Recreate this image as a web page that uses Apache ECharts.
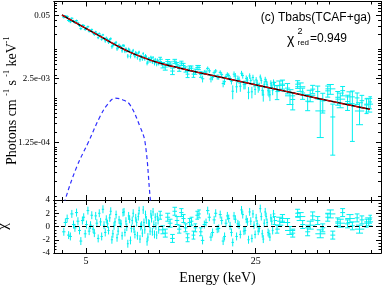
<!DOCTYPE html>
<html>
<head>
<meta charset="utf-8">
<script src="https://cdn.jsdelivr.net/npm/echarts@6/dist/echarts.min.js"></script>
<style>
html,body{margin:0;padding:0;background:#fff;}
#chart{width:382px;height:285px;}
</style>
</head>
<body>
<div id="chart"></div>
<script>
// ---------- data (two interleaved spectra) ----------
const energyA = [4.05,4.18,4.31,4.44,4.57,4.70,4.83,4.96,5.09,5.22,5.35,5.48,5.61,5.74,5.87,6.00,6.13,6.26,6.39,6.52,6.65,6.78,6.91,7.04,7.17,7.30,7.43,7.56,7.69,7.82,7.95,8.08,8.21,8.34,8.47,8.60,8.73,8.86,8.99,9.12,9.25,9.38,9.51,9.64,9.77,9.90,
10.1,10.6,11.1,11.6,12.1,12.6,13.1,13.6,14.1,14.6,15.1,15.6,16.1,16.6,17.1,17.6,18.1,18.6,19.1,19.6,20.1,20.6,21.1,21.6,22.1,22.6,23.1,23.6,24.1,24.6,25.1,25.6,26.1,26.6,27.1,27.6,28.1,28.6,29.1,29.6,
30.6,32.2,33.8,35.5,37.2,39.0,40.9,42.9,45.0,47.2,49.5,51.9,54.4,57.0,59.7,62.5,65.4,68.4,71.5,74.0];

const fluxA = [0.0458,0.04723,0.03683,0.03793,0.03872,0.03066,0.03107,0.02558,0.02915,0.02405,0.02166,0.02275,0.01735,0.01902,0.01981,
0.01497,0.01569,0.01583,0.01137,0.0129,0.01392,0.01094,0.01149,0.00936,0.01184,0.01024,0.00729,0.00959,0.00831,0.00956,0.00721,0.00809,0.00839,0.00616,0.00715,0.0082,0.00636,0.00698,0.0055,0.00636,0.00694,0.0055,0.00589,0.00625,0.00493,0.00577,
0.00626,0.00434,0.00497,0.0057,0.00406,0.00467,0.00311,0.00411,0.00351,0.00426,0.0025,0.00345,0.00363,0.00268,0.00361,0.00272,0.00304,0.00218,0.00308,0.00254,
0.00139,0.00284,0.00248,0.00176,0.00291,0.00191,0.00235,0.00285,0.00135,0.00202,0.00236,0.00163,0.00272,0.00144,0.00192,0.00218,0.00142,0.00117,0.00185,0.00213,
0.001364,0.00194,0.001608,0.00094,0.001933,0.001276,0.000867,0.001533,0.001367,0.000878,0.001412,0.000412,0.001044,0.001426,0.000854,0.000765,0.001012,0.000888,0.000725,0.000837];

const errA = [0.00289,0.00264,0.00243,0.00224,0.00206,0.00191,0.00177,0.00164,0.00153,0.00143,0.00133,0.00125,0.00117,0.0011,0.00103,
0.00129,0.00122,0.00115,0.00108,0.00102,0.00097,0.00093,0.00088,0.00084,0.00081,0.00077,0.00074,0.0007,0.00068,0.00066,0.00064,0.00062,0.0006,0.00058,0.00056,0.00055,0.00053,0.00052,0.0005,0.00049,0.00048,0.00047,0.00046,0.00045,0.00044,0.00043,
0.00062,0.00059,0.00056,0.00054,0.00051,0.00049,0.00047,0.00045,0.00043,0.00042,0.0004,0.00039,0.00037,0.00036,0.00035,0.00034,0.00033,0.00032,0.00031,0.0003,
0.00044,0.00043,0.00042,0.00041,0.0004,0.00039,0.00038,0.00037,0.00036,0.00035,0.00034,0.00034,0.00033,0.00032,0.00032,0.00031,0.0003,0.0003,0.00029,0.00029,
0.00043,0.000407,0.000386,0.000365,0.000347,0.00033,0.000313,0.000297,0.000402,0.000382,0.000362,0.000344,0.000326,0.00031,0.000294,0.000635,0.000266,0.000254,0.000242,0.000232];

const chiA = [-0.8,1.2,-1.5,0.3,2.1,-0.6,0.9,-1.1,2.4,0.2,-0.4,1.6,-1.8,0.7,2.6,-0.9,0.4,1.3,-2.0,0.1,1.8,-0.7,0.5,-1.4,2.2,0.8,-2.6,1.1,-0.3,2.0,-1.2,0.6,1.5,-1.9,0.2,2.5,-0.5,1.0,-1.6,0.4,1.9,-0.8,0.3,1.4,-1.3,0.9,
1.7,-1.0,0.5,2.3,-0.4,1.2,-1.7,0.8,-0.2,1.9,-2.1,0.6,1.4,-0.9,2.0,-0.3,0.9,-1.5,1.6,0.1,-2.4,1.1,0.4,-1.2,1.8,-0.6,0.7,2.2,-1.8,0.2,1.3,-0.7,2.7,-1.1,0.5,1.5,-0.9,-1.6,0.8,1.9,
-0.4,1.2,0.6,-1.0,2.0,0.3,-0.8,1.6,0.9,-0.2,1.4,-1.3,0.7,2.1,0.4,0.1,1.3,1.0,0.5,1.1];

const energyB = [4.11,4.24,4.37,4.50,4.63,4.76,4.89,5.02,5.15,5.28,5.41,5.54,5.67,5.80,5.93,6.06,6.19,6.32,6.45,6.58,6.71,6.84,6.97,7.10,7.23,7.36,7.49,7.62,7.75,7.88,8.01,8.14,8.27,8.40,8.53,8.66,8.79,8.92,9.05,9.18,9.31,9.44,9.57,9.70,9.83,9.96,
10.35,10.85,11.35,11.85,12.35,12.85,13.35,13.85,14.35,14.85,15.35,15.85,16.35,16.85,17.35,17.85,18.35,18.85,19.35,19.85,20.35,20.85,21.35,21.85,22.35,22.85,23.35,23.85,24.35,24.85,25.35,25.85,26.35,26.85,27.35,27.85,28.35,28.85,29.35,29.85,
31.4,34.6,38.1,41.9,46.1,50.7,55.7,61.1,66.9,73.0];

const fluxB = [0.04775,0.03897,0.0433,0.0354,0.03469,0.0266,0.03083,0.02692,0.02359,0.02532,0.02019,0.02071,0.02111,0.01611,0.01684,
0.01705,0.01406,0.0165,0.01201,0.01319,0.01026,0.01223,0.01115,0.01204,0.00914,0.00933,0.01015,0.0072,0.00898,0.00785,0.00867,0.00676,0.0088,0.00715,0.00638,0.00705,0.00749,0.00521,0.00649,0.00575,0.00652,0.00684,0.00514,0.0056,0.00609,0.00509,
0.00477,0.00562,0.00359,0.00484,0.00522,0.0039,0.00411,0.00311,0.00426,0.00308,0.0034,0.00408,0.00247,0.00332,0.00273,0.00338,0.00199,0.00278,0.00292,0.00221,
0.0031,0.00171,0.00236,0.00323,0.0019,0.00254,0.00132,0.00231,0.00266,0.00151,0.00203,0.00175,0.0023,0.00117,0.00243,0.00189,0.00134,0.00202,0.00144,0.00182,
0.001829,0.001117,0.001714,0.001148,0.000548,0.001552,0.000954,0.001063,0.000546,0.000755];

const errB = [0.00277,0.00254,0.00233,0.00215,0.00199,0.00184,0.00171,0.00159,0.00148,0.00138,0.00129,0.00121,0.00113,0.00106,0.001,
0.00125,0.00118,0.00112,0.00105,0.001,0.00095,0.00091,0.00086,0.00082,0.00079,0.00075,0.00072,0.00069,0.00067,0.00065,0.00063,0.00061,0.00059,0.00057,0.00056,0.00054,0.00052,0.00051,0.0005,0.00049,0.00048,0.00047,0.00046,0.00044,0.00044,0.00042,
0.00061,0.00058,0.00055,0.00052,0.0005,0.00048,0.00046,0.00044,0.00042,0.00041,0.00039,0.00038,0.00037,0.00036,0.00034,0.00033,0.00032,0.00031,0.00031,0.0003,
0.00043,0.00042,0.00041,0.0004,0.00039,0.00038,0.00037,0.00036,0.00036,0.00035,0.00034,0.00033,0.00033,0.00032,0.00031,0.00031,0.0003,0.0003,0.00029,0.00028,
0.000418,0.000376,0.000338,0.000304,0.000392,0.000353,0.000318,0.000287,0.00026,0.000236];

const chiB = [0.6,-1.3,1.9,-0.2,0.8,-2.2,1.4,0.3,-0.7,1.7,-1.0,0.5,2.0,-1.5,0.2,1.1,-0.6,2.3,-1.1,0.7,-1.7,1.0,0.4,2.1,-0.9,-0.1,1.6,-2.1,0.9,-0.4,1.3,-1.4,2.4,0.0,-1.0,0.6,1.8,-2.3,0.5,-0.7,1.2,2.2,-1.2,0.1,1.5,-0.5,
-0.5,1.4,-1.8,0.9,2.1,-0.2,0.6,-1.3,1.7,-0.8,0.3,2.4,-1.6,1.0,-0.4,1.8,-2.2,0.5,1.2,-0.9,1.6,-1.5,0.2,2.5,-0.7,1.1,-2.0,0.8,1.9,-1.2,0.4,-0.3,1.5,-1.9,2.2,0.6,-1.1,1.3,-0.6,0.9,
0.8,-0.6,1.5,0.2,-1.1,1.9,0.5,1.2,-0.4,0.7];

const modelE = [3.98,4.72,5.70,6.58,7.58,8.75,10.1,12.2,14.7,19.6,26.0,34.6,48.9,73.8];
const modelF = [0.0505,0.0315,0.0187,0.0125,0.00876,0.0066,0.0052,0.00411,0.00332,0.00244,0.0018,0.00132,0.000904,0.00059];

const gaussE = [4.02,4.10,4.58,5.11,5.71,6.15,6.58,7.10,7.59,8.34,8.75,9.18,9.30];
const gaussF = [5e-6,8.2e-6,3.94e-5,1.25e-4,4.2e-4,7.6e-4,1.0e-3,9.2e-4,7.3e-4,2.62e-4,1.25e-4,9.5e-6,5e-6];

const xTickMajor = [5, 25];
const xTickMinor = [4,6,7,8,9,10,15,20,30,35,40,45,50,75];
const yTickValues = [0.05, 2.5e-3, 1.25e-4];
const yTickLabels = ['0.05', '2.5e-03', '1.25e-04'];
const yMinorTicks = [1e-5,2e-5,3e-5,4e-5,5e-5,6e-5,7e-5,8e-5,9e-5,1e-4,2e-4,3e-4,4e-4,5e-4,6e-4,7e-4,8e-4,9e-4,
  1e-3,2e-3,3e-3,4e-3,5e-3,6e-3,7e-3,8e-3,9e-3,0.01,0.02,0.03,0.04,0.06,0.07,0.08,0.09];
const chiTicks = [-4, -2, 0, 2, 4];

const xMin = 3.69, xMax = 82, yMin = 8.2e-6, yMax = 0.0956;

// ---------- build ----------
const lg = Math.log10;
const serif = "'Liberation Serif','DejaVu Serif',serif";
const CYAN = '#00f0f0';
const RES_BAR = 0.6;   // half-height of the residual bars as drawn in the reference

function binEdges(E, i) {
  const e = E[i];
  const prev = i > 0 ? E[i-1] : e - (E[1]-E[0]);
  const next = i < E.length-1 ? E[i+1] : e + (e - E[i-1]);
  return [(prev + e)/2, (e + next)/2];
}
function topRows(E, F, D) {
  return E.map((e, i) => {
    const [l, r] = binEdges(E, i);
    const lo = Math.max(F[i] - D[i], yMin);
    const hi = Math.min(F[i] + D[i], yMax);
    return [lg(e), lg(F[i]), lg(lo), lg(hi), lg(l), lg(r)];
  });
}
function resRows(E, C) {
  return E.map((e, i) => {
    const [l, r] = binEdges(E, i);
    return [lg(e), C[i], C[i]-RES_BAR, C[i]+RES_BAR, lg(l), lg(r)];
  });
}

function errRender(params, api) {
  const x = api.value(0), y = api.value(1), lo = api.value(2), hi = api.value(3), xl = api.value(4), xr = api.value(5);
  const pL = api.coord([xl, y]), pR = api.coord([xr, y]);
  const pLo = api.coord([x, lo]), pHi = api.coord([x, hi]);
  const w = pR[0] - pL[0];
  const st = {stroke: CYAN, lineWidth: 1};
  const kids = [
    {type:'line', shape:{x1:pL[0], y1:pL[1], x2:pR[0], y2:pR[1]}, style: st},
    {type:'line', shape:{x1:pLo[0], y1:pLo[1], x2:pHi[0], y2:pHi[1]}, style: st}
  ];
  if (w >= 3.5) {
    const cw = Math.min(w, 7) / 2;
    kids.push({type:'line', shape:{x1:pLo[0]-cw, y1:pLo[1], x2:pLo[0]+cw, y2:pLo[1]}, style: st});
    kids.push({type:'line', shape:{x1:pHi[0]-cw, y1:pHi[1], x2:pHi[0]+cw, y2:pHi[1]}, style: st});
  }
  return {type: 'group', children: kids};
}

function xAxisCfg(grid, pos, ticks, len, extra) {
  return Object.assign({
    type: 'value', gridIndex: grid, position: pos, min: lg(xMin), max: lg(xMax),
    axisLine: {show: true, onZero: false, lineStyle: {color: '#000', width: 1}},
    axisTick: {show: true, inside: true, length: len, customValues: ticks.map(lg), lineStyle: {color: '#000', width: 1}},
    axisLabel: {show: false}, splitLine: {show: false}
  }, extra || {});
}
function yLogCfg(pos, ticks, len, extra) {
  return Object.assign({
    type: 'value', gridIndex: 0, position: pos, min: lg(yMin), max: lg(yMax),
    axisLine: {show: true, onZero: false, lineStyle: {color: '#000', width: 1}},
    axisTick: {show: true, inside: true, length: len, customValues: ticks.map(lg), lineStyle: {color: '#000', width: 1}},
    axisLabel: {show: false}, splitLine: {show: false}
  }, extra || {});
}
function yChiCfg(pos, extra) {
  return Object.assign({
    type: 'value', gridIndex: 1, position: pos, min: -4, max: 4, interval: 2,
    axisLine: {show: true, onZero: false, lineStyle: {color: '#000', width: 1}},
    axisTick: {show: true, inside: true, length: 5, lineStyle: {color: '#000'}},
    minorTick: {show: true, splitNumber: 4, length: 2.5, lineStyle: {color: '#000'}},
    axisLabel: {show: false}, splitLine: {show: false}
  }, extra || {});
}

const modelData = modelE.map((e, i) => [lg(e), lg(modelF[i])]);

const option = {
  animation: false,
  backgroundColor: '#fff',
  grid: [
    {left: 54, top: 1.5, width: 327, height: 198.5, containLabel: false, outerBoundsMode: 'none'},
    {left: 54, top: 200, width: 327, height: 53, containLabel: false, outerBoundsMode: 'none'}
  ],
  xAxis: [
    xAxisCfg(0, 'bottom', xTickMajor, 5),
    xAxisCfg(0, 'bottom', xTickMinor, 3),
    xAxisCfg(0, 'top', xTickMajor, 5),
    xAxisCfg(0, 'top', xTickMinor, 3),
    xAxisCfg(1, 'bottom', xTickMajor, 5, {
      axisLabel: {show: true, customValues: xTickMajor.map(lg), margin: 3,
        formatter: v => String(Math.round(Math.pow(10, v))),
        fontFamily: serif, fontSize: 10, color: '#000'},
      name: 'Energy (keV)', nameLocation: 'middle', nameGap: 18, nameMoveOverlap: false,
      nameTextStyle: {fontFamily: serif, fontSize: 14, color: '#000'}
    }),
    xAxisCfg(1, 'bottom', xTickMinor, 3),
    xAxisCfg(1, 'top', xTickMajor, 5),
    xAxisCfg(1, 'top', xTickMinor, 3)
  ],
  yAxis: [
    yLogCfg('left', yTickValues, 5, {
      axisLabel: {show: true, customValues: yTickValues.map(lg), margin: 4,
        formatter: v => { let k = 0, d = 1e9; yTickValues.forEach((t, i) => { const dd = Math.abs(lg(t) - v); if (dd < d) { d = dd; k = i; } }); return yTickLabels[k]; },
        fontFamily: serif, fontSize: 9, color: '#000'},
      name: 'Photons cm {s|-1} s {s|-1} keV{s|-1}', nameLocation: 'middle', nameRotate: 90, nameGap: 33, nameMoveOverlap: false,
      nameTextStyle: {fontFamily: serif, fontSize: 14, color: '#000', lineHeight: 18,
        rich: {s: {fontFamily: serif, fontSize: 8, color: '#000', verticalAlign: 'top', lineHeight: 10}}}
    }),
    yLogCfg('left', yMinorTicks, 3),
    yLogCfg('right', yTickValues, 5),
    yLogCfg('right', yMinorTicks, 3),
    yChiCfg('left', {
      axisLabel: {show: true, customValues: chiTicks, margin: 4, fontFamily: serif, fontSize: 9, color: '#000'},
      name: 'χ', nameLocation: 'middle', nameRotate: 90, nameGap: 43, nameMoveOverlap: false,
      nameTextStyle: {fontFamily: serif, fontSize: 15, color: '#000'}
    }),
    yChiCfg('right')
  ],
  series: [
    {type: 'custom', name: 'dataA', xAxisIndex: 0, yAxisIndex: 0, renderItem: errRender, data: topRows(energyA, fluxA, errA), clip: true, z: 2},
    {type: 'custom', name: 'dataB', xAxisIndex: 0, yAxisIndex: 0, renderItem: errRender, data: topRows(energyB, fluxB, errB), clip: true, z: 2},
    {type: 'line', name: 'model', xAxisIndex: 0, yAxisIndex: 0, smooth: 0.5, showSymbol: false,
      data: modelData, lineStyle: {color: '#000', width: 1.5}, z: 3},
    {type: 'line', name: 'model2', xAxisIndex: 0, yAxisIndex: 0, smooth: 0.5, showSymbol: false,
      data: modelData, lineStyle: {color: '#e00000', width: 1.1, type: [5, 2]}, z: 4},
    {type: 'line', name: 'gauss', xAxisIndex: 0, yAxisIndex: 0, smooth: 0.4, showSymbol: false, clip: true,
      data: gaussE.map((e, i) => [lg(e), lg(gaussF[i])]), lineStyle: {color: '#2f2fff', width: 1.2, type: [4, 3]}, z: 3},
    {type: 'custom', name: 'residA', xAxisIndex: 4, yAxisIndex: 4, renderItem: errRender, data: resRows(energyA, chiA), clip: true, z: 2,
      markLine: {silent: true, symbol: 'none', label: {show: false},
        lineStyle: {color: '#000', type: [4, 3], width: 1}, data: [{yAxis: 0}], z: 5}},
    {type: 'custom', name: 'residB', xAxisIndex: 4, yAxisIndex: 4, renderItem: errRender, data: resRows(energyB, chiB), clip: true, z: 2}
  ],
  graphic: [
    {type: 'text', x: 371, y: 18, style: {text: '(c) Tbabs(TCAF+ga)', font: "12px 'Liberation Sans', Arial", fill: '#000', textAlign: 'right', textVerticalAlign: 'middle'}},
    {type: 'text', x: 287, y: 40, style: {text: 'χ', font: "14px 'Liberation Sans', Arial", fill: '#000', textAlign: 'left', textVerticalAlign: 'middle'}},
    {type: 'text', x: 297.5, y: 32, style: {text: '2', font: "9px 'Liberation Sans', Arial", fill: '#000', textAlign: 'left', textVerticalAlign: 'middle'}},
    {type: 'text', x: 297.5, y: 43, style: {text: 'red', font: "8px 'Liberation Sans', Arial", fill: '#000', textAlign: 'left', textVerticalAlign: 'middle'}},
    {type: 'text', x: 310, y: 38.5, style: {text: '=0.949', font: "12px 'Liberation Sans', Arial", fill: '#000', textAlign: 'left', textVerticalAlign: 'middle'}}
  ]
};

const chart = echarts.init(document.getElementById('chart'), null, {renderer: 'canvas'});
chart.setOption(option);
</script>
</body>
</html>
